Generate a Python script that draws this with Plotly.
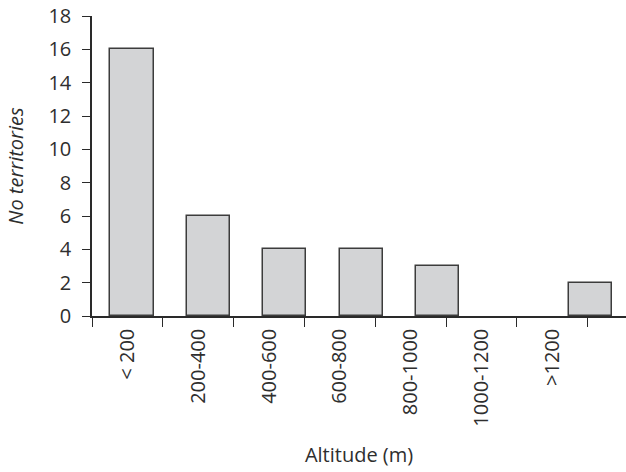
import plotly.graph_objects as go

categories = ["< 200", "200-400", "400-600", "600-800", "800-1000", "1000-1200", ">1200"]
territories = [16, 6, 4, 4, 3, 0, 2]
y_ticks = [0, 2, 4, 6, 8, 10, 12, 14, 16, 18]

FONT = "Open Sans, Noto Sans, DejaVu Sans, sans-serif"
AXC = "#2a2a2a"
TXT = "#2e2e2e"
FS = 20

fig = go.Figure()
# bars on hidden axis x2 (bar spacing in the original differs slightly from label spacing)
fig.add_trace(go.Bar(
    x=categories, y=territories, xaxis="x2", yaxis="y",
    width=0.565,
    marker=dict(color="#d3d4d6",
                line=dict(color="#3c3c3c", width=[1.5 if v > 0 else 0 for v in territories])),
    hoverinfo="x+y",
))
# invisible trace to populate the labelled category axis
fig.add_trace(go.Scatter(
    x=categories, y=territories, xaxis="x", yaxis="y",
    mode="markers", marker=dict(opacity=0), hoverinfo="skip", showlegend=False,
))

fig.update_layout(
    width=626, height=472,
    margin=dict(l=92, r=0, t=16, b=156),
    paper_bgcolor="white", plot_bgcolor="white",
    showlegend=False,
    font=dict(family=FONT, size=FS, color=TXT),
    xaxis=dict(
        type="category", categoryorder="array", categoryarray=categories,
        range=[-0.5, 7.04], automargin=False,
        showline=True, linecolor=AXC, linewidth=1.5,
        ticks="outside", tickson="boundaries", ticklen=9, tickwidth=1.2, tickcolor=AXC,
        tickangle=-90, showgrid=False, zeroline=False,
        tickfont=dict(family=FONT, size=FS, color=TXT),
        ticklabelstandoff=3, ticklabeloverflow="allow",
        title=dict(text="Altitude (m)", font=dict(family=FONT, size=FS, color=TXT), standoff=22),
    ),
    xaxis2=dict(
        type="category", categoryorder="array", categoryarray=categories,
        range=[-0.524, 6.466], overlaying="x", anchor="y", side="bottom",
        visible=False,
    ),
    yaxis=dict(
        range=[0, 18], tickvals=y_ticks, automargin=False,
        showline=True, linecolor=AXC, linewidth=1.5,
        ticks="outside", ticklen=8, tickwidth=1.2, tickcolor=AXC,
        showgrid=False, zeroline=False,
        tickfont=dict(family=FONT, size=FS, color=TXT),
        ticklabelstandoff=7, ticklabeloverflow="allow",
        title=dict(text="No territories", font=dict(family=FONT, size=FS, color=TXT, style="italic"), standoff=19),
    ),
    bargap=0,
)

# remove the default 8px page margin so the 626x472 figure fills the window exactly
fig.write_html(
    "out.html",
    config={"displayModeBar": False},
    post_script="document.body.style.margin='0';document.body.style.overflow='hidden';",
)
